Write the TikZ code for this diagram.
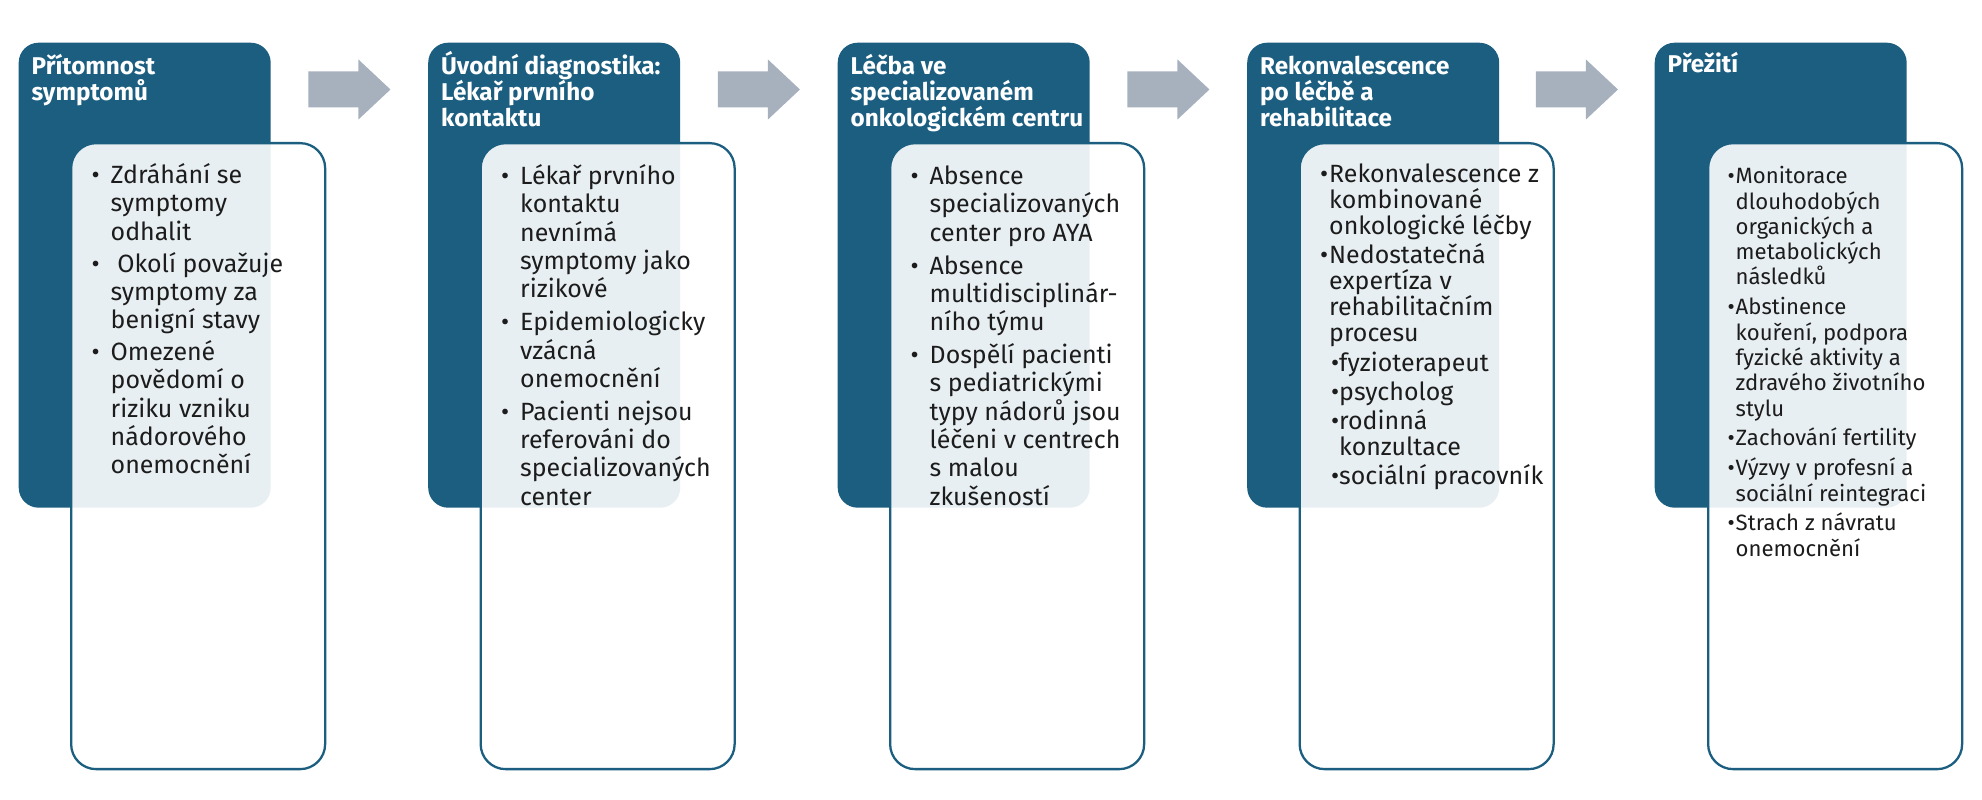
\documentclass[tikz,border=0pt]{standalone}
\usepackage{fontspec}
\setmainfont{Fira Sans}
\usetikzlibrary{calc}
\definecolor{darkteal}{HTML}{1B5E80}
\definecolor{arrowgray}{HTML}{A7B1BE}
\definecolor{bodyink}{HTML}{1C1C1C}
\newcommand{\bul}[1][1.9mm]{\makebox[#1][l]{\textbullet}}
\newcommand{\ind}[1][1.9mm]{\hspace*{#1}}
\newcommand{\topline}{\rule{0pt}{7pt}}
\tikzset{
  darkbox/.style={rectangle, rounded corners=0.2cm, fill=darkteal, inner sep=0,
    minimum width=2.52cm, minimum height=4.65cm, anchor=north west},
  whitebox/.style={rectangle, rounded corners=0.25cm, draw=darkteal, line width=0.65pt,
    fill=white, fill opacity=0.9, inner sep=0, minimum width=2.54cm, minimum height=6.26cm,
    anchor=north west},
  headtext/.style={text=white, align=left, inner sep=0, anchor=north west, yshift=7pt,
    font=\fontsize{6.9}{7.4}\selectfont\bfseries},
  bodytext/.style={text=bodyink, align=left, inner sep=0, anchor=north west, yshift=7pt,
    font=\fontsize{7.1}{8.05}\selectfont},
  blockarrow/.style={fill=arrowgray}
}
\begin{document}
\begin{tikzpicture}
            \useasboundingbox (0, 0) rectangle (19.82, -8);
            \node[darkbox] (d1) at (0.18, -0.42) {};
            \node[darkbox] (d2) at (4.275, -0.42) {};
            \node[darkbox] (d3) at (8.37, -0.42) {};
            \node[darkbox] (d4) at (12.465, -0.42) {};
            \node[darkbox] (d5) at (16.54, -0.42) {};
            \node[whitebox] (w1) at (0.70, -1.42) {};
            \node[whitebox] (w2) at (4.795, -1.42) {};
            \node[whitebox] (w3) at (8.89, -1.42) {};
            \node[whitebox] (w4) at (12.985, -1.42) {};
            \node[whitebox] (w5) at (17.07, -1.42) {};
            \coordinate (a1) at ($(d1.north east)!0.5!(d2.north west) + (0, -0.475)$);
            \coordinate (a2) at ($(d2.north east)!0.5!(d3.north west) + (0, -0.475)$);
            \coordinate (a3) at ($(d3.north east)!0.5!(d4.north west) + (0, -0.475)$);
            \coordinate (a4) at ($(d4.north east)!0.5!(d5.north west) + (0, -0.475)$);
            \fill[blockarrow] (a1) ++(-0.41, 0.18) -- ++(0.5, 0) -- ++(0, 0.12) -- ++(0.32, -0.30) -- ++(-0.32, -0.30) -- ++(0, 0.12) -- ++(-0.5, 0) -- cycle;
            \fill[blockarrow] (a2) ++(-0.41, 0.18) -- ++(0.5, 0) -- ++(0, 0.12) -- ++(0.32, -0.30) -- ++(-0.32, -0.30) -- ++(0, 0.12) -- ++(-0.5, 0) -- cycle;
            \fill[blockarrow] (a3) ++(-0.41, 0.18) -- ++(0.5, 0) -- ++(0, 0.12) -- ++(0.32, -0.30) -- ++(-0.32, -0.30) -- ++(0, 0.12) -- ++(-0.5, 0) -- cycle;
            \fill[blockarrow] (a4) ++(-0.41, 0.18) -- ++(0.5, 0) -- ++(0, 0.12) -- ++(0.32, -0.30) -- ++(-0.32, -0.30) -- ++(0, 0.12) -- ++(-0.5, 0) -- cycle;
            \node[headtext] (h1) at (0.31, -0.74) {\topline Přítomnost\\symptomů};
            \node[headtext] (h2) at (4.405, -0.74) {\topline Úvodní diagnostika:\\Lékař prvního\\kontaktu};
            \node[headtext] (h3) at (8.50, -0.74) {\topline Léčba ve\\specializovaném\\onkologickém centru};
            \node[headtext] (h4) at (12.595, -0.74) {\topline Rekonvalescence\\po léčbě a\\rehabilitace};
            \node[headtext] (h5) at (16.67, -0.72) {\topline Přežití};
            \node[bodytext] (b1) at (0.91, -1.83) {\topline\bul Zdráhání se\\\ind symptomy\\\ind odhalit\\[1pt]
              \bul\ Okolí považuje\\\ind symptomy za\\\ind benigní stavy\\[1pt]
              \bul Omezené\\\ind povědomí o\\\ind riziku vzniku\\\ind nádorového\\\ind onemocnění};
            \node[bodytext] (b2) at (5.005, -1.84) {\topline\bul Lékař prvního\\\ind kontaktu\\\ind nevnímá\\\ind symptomy jako\\\ind rizikové\\[1.3pt]
              \bul Epidemiologicky\\\ind vzácná\\\ind onemocnění\\[1.3pt]
              \bul Pacienti nejsou\\\ind referováni do\\\ind specializovaných\\\ind center};
            \node[bodytext] (b3) at (9.10, -1.84) {\topline\bul Absence\\\ind specializovaných\\\ind center pro AYA\\[1.3pt]
              \bul Absence\\\ind multidisciplinár-\\\ind ního týmu\\[1.3pt]
              \bul Dospělí pacienti\\\ind s pediatrickými\\\ind typy nádorů jsou\\\ind léčeni v centrech\\\ind s malou\\\ind zkušeností};
            \node[bodytext, font=\fontsize{7.1}{7.4}\selectfont] (b4) at (13.195, -1.82) {\topline\bul[0.9mm]Rekonvalescence z\\\ind[0.9mm]kombinované\\\ind[0.9mm]onkologické léčby\\[0.9pt]
              \bul[0.9mm]Nedostatečná\\\ind[0.9mm]expertíza v\\\ind[0.9mm]rehabilitačním\\\ind[0.9mm]procesu\\[0.9pt]
              \ind[1.1mm]\bul[0.8mm]fyzioterapeut\\[0.9pt]
              \ind[1.1mm]\bul[0.8mm]psycholog\\[0.9pt]
              \ind[1.1mm]\bul[0.8mm]rodinná\\\ind[1.9mm]konzultace\\[0.9pt]
              \ind[1.1mm]\bul[0.8mm]sociální pracovník};
            \node[bodytext, font=\fontsize{6.3}{7.2}\selectfont] (b5) at (17.27, -1.83) {\topline\bul[0.8mm]Monitorace\\\ind[0.8mm]dlouhodobých\\\ind[0.8mm]organických a\\\ind[0.8mm]metabolických\\\ind[0.8mm]následků\\[1.3pt]
              \bul[0.8mm]Abstinence\\\ind[0.8mm]kouření, podpora\\\ind[0.8mm]fyzické aktivity a\\\ind[0.8mm]zdravého životního\\\ind[0.8mm]stylu\\[1.3pt]
              \bul[0.8mm]Zachování fertility\\[1.3pt]
              \bul[0.8mm]Výzvy v profesní a\\\ind[0.8mm]sociální reintegraci\\[1.3pt]
              \bul[0.8mm]Strach z návratu\\\ind[0.8mm]onemocnění};
        \end{tikzpicture}
\end{document}
